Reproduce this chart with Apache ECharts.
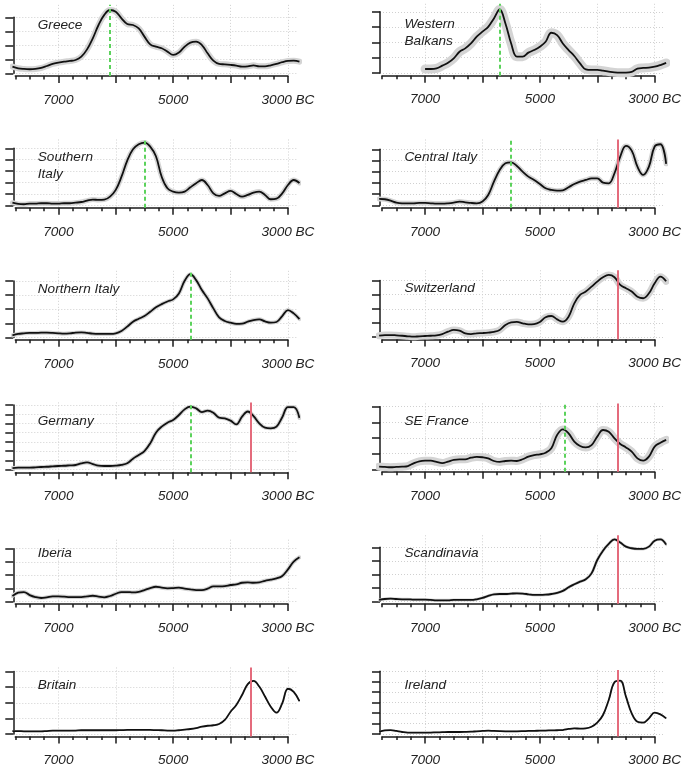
<!DOCTYPE html>
<html><head><meta charset="utf-8">
<script src="https://cdn.jsdelivr.net/npm/echarts@6/dist/echarts.min.js"></script>
<style>html,body{margin:0;padding:0;background:#fff}#c{width:685px;height:770px}</style>
</head><body><div id="c"></div>
<script>
// ---------- DATA ----------
const years = [7800,7700,7600,7500,7400,7300,7200,7100,7000,6900,6800,6700,6600,6500,6400,6300,6200,6100,6000,5900,5800,5700,5600,5500,5400,5300,5200,5100,5000,4900,4800,4700,4600,4500,4400,4300,4200,4100,4000,3900,3800,3700,3600,3500,3400,3300,3200,3100,3000,2900,2800];

const greece = [0.48,0.36,0.31,0.29,0.31,0.38,0.52,0.67,0.76,0.83,
  0.88,0.95,1.19,1.71,2.5,3.45,4.17,4.52,4.4,3.93,
  3.52,3.45,3.21,2.62,2.07,1.9,1.79,1.55,1.31,1.48,
  1.9,2.19,2.26,2.02,1.43,0.9,0.67,0.64,0.6,0.55,
  0.48,0.5,0.57,0.5,0.5,0.57,0.67,0.79,0.88,0.9,
  0.83];
const westernBalkans = [null,null,null,null,null,null,null,null,0.26,0.26,
  0.30,0.48,0.67,0.96,1.39,1.61,1.93,2.37,2.7,3.02,
  3.57,4.15,3.24,1.93,1.07,1.07,1.33,1.5,1.72,2.04,
  2.63,2.48,1.93,1.5,1.11,0.63,0.24,0.2,0.2,0.15,
  0.09,0.04,0.02,0.02,0.07,0.28,0.33,0.35,0.41,0.52,
  0.66];
const southernItaly = [0.23,0.12,0.09,0.15,0.15,0.18,0.18,0.15,0.15,0.18,
  0.18,0.23,0.29,0.41,0.5,0.47,0.5,0.76,1.35,2.51,
  3.92,4.91,5.35,5.5,5.15,4.3,2.5,1.49,1.2,1.11,
  1.2,1.58,1.93,2.22,1.78,1.05,0.82,1.05,1.26,0.99,
  0.76,0.91,1.11,1.2,0.91,0.53,0.58,1.05,1.78,2.22,
  1.95];
const centralItaly = [0.57,0.54,0.42,0.24,0.18,0.18,0.18,0.21,0.21,0.18,
  0.15,0.15,0.18,0.24,0.33,0.27,0.21,0.18,0.33,0.92,
  2.11,3.15,3.75,3.84,3.51,3.0,2.56,2.26,1.9,1.52,
  1.37,1.31,1.34,1.61,1.9,2.11,2.26,2.41,2.41,2.02,
  1.96,2.86,4.35,5.3,4.88,3.45,2.71,3.45,5.25,5.45,
  3.7];
const northernItaly = [0.14,0.24,0.28,0.31,0.31,0.33,0.33,0.31,0.28,0.26,
  0.28,0.33,0.35,0.31,0.26,0.24,0.24,0.24,0.28,0.45,
  0.76,1.11,1.32,1.51,1.82,2.13,2.36,2.55,2.7,3.12,
  4.02,4.49,4.07,3.36,2.77,2.06,1.42,1.16,1.04,0.95,
  0.97,1.11,1.23,1.28,1.13,1.04,1.09,1.51,1.94,1.7,
  1.3];
const switzerland = [0.09,0.14,0.14,0.12,0.09,0.05,0.02,0.05,0.07,0.09,
  0.12,0.21,0.38,0.5,0.45,0.26,0.21,0.26,0.28,0.31,
  0.36,0.5,0.85,1.04,1.07,0.97,0.9,0.92,1.07,1.4,
  1.49,1.25,1.09,1.44,2.39,2.98,3.22,3.57,3.93,4.24,
  4.4,4.24,3.69,3.46,3.22,2.86,2.75,3.1,3.81,4.28,
  3.95];
const germany = [0.18,0.22,0.22,0.22,0.25,0.29,0.32,0.36,0.4,0.43,
  0.47,0.51,0.69,0.79,0.61,0.43,0.4,0.4,0.43,0.51,
  0.69,1.19,1.59,2.02,2.85,4.01,4.66,5.09,5.38,5.92,
  6.53,6.82,6.64,6.24,6.39,6.17,5.63,5.56,5.31,4.91,
  5.74,6.3,5.81,5.02,4.55,4.48,4.66,5.67,6.78,6.78,
  5.6];
const seFrance = [0.17,0.15,0.13,0.15,0.17,0.21,0.38,0.51,0.55,0.55,
  0.47,0.4,0.49,0.6,0.64,0.64,0.74,0.79,0.77,0.7,
  0.53,0.47,0.53,0.55,0.53,0.64,0.81,0.91,0.96,1.06,
  1.34,2.19,2.55,2.3,1.77,1.49,1.4,1.55,2.09,2.51,
  2.4,1.98,1.62,1.4,1.13,0.7,0.55,0.81,1.45,1.7,
  1.88];
const iberia = [0.43,0.68,0.73,0.5,0.35,0.28,0.33,0.4,0.4,0.38,
  0.35,0.35,0.35,0.4,0.45,0.38,0.33,0.43,0.6,0.73,
  0.73,0.7,0.75,0.88,1.03,1.13,1.06,1.01,1.03,1.06,
  0.98,0.93,0.88,0.88,0.98,1.16,1.16,1.18,1.26,1.31,
  1.43,1.46,1.43,1.46,1.58,1.66,1.76,1.94,2.44,3.02,
  3.35];
const scandinavia = [0.1,0.17,0.2,0.17,0.15,0.15,0.12,0.12,0.12,0.1,
  0.07,0.07,0.07,0.1,0.1,0.1,0.1,0.15,0.25,0.4,
  0.52,0.54,0.54,0.57,0.59,0.57,0.52,0.47,0.47,0.49,
  0.54,0.62,0.77,1.04,1.26,1.46,1.63,2.07,3.06,3.75,
  4.25,4.59,4.35,4.05,3.93,3.88,3.88,4.05,4.49,4.59,
  4.2];
const britain = [0.19,0.19,0.17,0.17,0.17,0.17,0.19,0.21,0.21,0.21,
  0.21,0.22,0.24,0.24,0.24,0.24,0.24,0.24,0.24,0.25,
  0.26,0.26,0.26,0.26,0.26,0.25,0.24,0.22,0.21,0.24,
  0.28,0.32,0.38,0.47,0.53,0.56,0.64,0.9,1.43,1.86,
  2.5,3.2,3.4,3.04,2.4,1.75,1.37,1.97,2.9,2.7,
  2.1];
const ireland = [0.22,0.35,0.38,0.29,0.19,0.13,0.13,0.13,0.13,0.14,
  0.16,0.17,0.19,0.19,0.19,0.2,0.22,0.26,0.29,0.32,
  0.29,0.27,0.26,0.26,0.26,0.27,0.29,0.3,0.32,0.33,
  0.35,0.36,0.38,0.48,0.54,0.51,0.54,0.7,1.09,1.82,
  3.26,4.95,5.1,3.58,1.98,1.18,1.09,1.5,2.04,1.88,
  1.5];

const regionNames = ['Greece','Western\nBalkans','Southern\nItaly','Central Italy','Northern Italy','Switzerland','Germany','SE France','Iberia','Scandinavia','Britain','Ireland'];
const regionValues = [greece, westernBalkans, southernItaly, centralItaly, northernItaly, switzerland, germany, seFrance, iberia, scandinavia, britain, ireland];
const greenYears = [6100, 5700, 5500, 5500, 4700, null, 4700, 4575, null, null, null, null];
const redYears   = [null, null, null, 3650, null, 3650, 3650, 3650, null, 3650, 3650, 3650];
const yTickCount = [4, 4, 5, 5, 4, 4, 7, 4, 4, 4, 4, 6];
const yUpper     = [4.7, 4.35, 5.55, 5.65, 4.55, 4.55, 7.0, 4.05, 4.5, 4.7, 4.1, 5.9];
const labelYears = [7000, 5000, 3000];
const xRange = [2820, 7785];
const minorRange = [3000, 7750];
const majorRange = [3000, 7000];

// ---------- LAYOUT / STYLE ----------
const tick0Y  = [73.3, 73, 205.3, 205.3, 337.3, 337, 469.7, 469.3, 601.7, 601.3, 734, 734];
const tickGap = [14, 15.3, 11.4, 11.2, 14.05, 14.1, 9.24, 15.65, 13.25, 13.5, 15.6, 10.45];
const bandW   = [6, 9, 5, 5, 4, 7, 4, 8, 4, 3, 1.5, 1.5];
const colLeft = [13.3, 380];
const plotW = 285;
const FONT = '"Liberation Sans", Arial, Helvetica, sans-serif';
const FS = 13.6;
const AX = '#1a1a1a';

const grids = [], xAxes = [], yAxes = [], series = [], titles = [];
const pxPerYear = plotW / (xRange[1] - xRange[0]);

regionNames.forEach((name, i) => {
  const c = i % 2;
  const L = colLeft[c];
  const xPx = y => L + (xRange[1] - y) * pxPerYear;
  const U = yUpper[i], g = tickGap[i], t0 = tick0Y[i], n = yTickCount[i];
  const top = t0 - 1.04 * U * g;
  const h = 1.08 * U * g;
  const gi = grids.length;
  grids.push({left: L, top: top, width: plotW, height: h, outerBoundsMode: 'none'});
  grids.push({left: xPx(minorRange[1]), top: top, width: xPx(minorRange[0]) - xPx(minorRange[1]), height: h, outerBoundsMode: 'none'});
  grids.push({left: xPx(majorRange[1]), top: top, width: xPx(majorRange[0]) - xPx(majorRange[1]), height: h, outerBoundsMode: 'none'});
  grids.push({left: L, top: t0 - n * g, width: plotW, height: n * g, outerBoundsMode: 'none'});

  const hiddenX = (gIdx, min, max, inv) => ({type: 'value', gridIndex: gIdx, min, max, inverse: inv, show: false, axisLine: {onZero: false}});
  const hiddenY = (gIdx, min, max) => ({type: 'value', gridIndex: gIdx, min, max, show: false, axisLine: {onZero: false}});

  xAxes.push(hiddenX(gi, xRange[0], xRange[1], true));
  yAxes.push(hiddenY(gi, -0.04 * U, 1.04 * U));

  xAxes.push({type: 'value', gridIndex: gi + 1, min: minorRange[0], max: minorRange[1], interval: 250, inverse: true,
    position: 'bottom',
    axisLine: {show: true, onZero: false, lineStyle: {color: AX, width: 1.5}},
    axisTick: {show: true, length: 3.5, lineStyle: {color: AX, width: 1.5}},
    axisLabel: {show: false}, splitLine: {show: false}});
  yAxes.push(hiddenY(gi + 1, 0, 1));

  xAxes.push({type: 'value', gridIndex: gi + 2, min: majorRange[0], max: majorRange[1], interval: 1000, inverse: true,
    position: 'bottom',
    axisLine: {show: false, onZero: false},
    axisTick: {show: true, length: 7, lineStyle: {color: AX, width: 1.5}},
    axisLabel: {show: true, margin: 17, fontSize: FS, fontStyle: 'italic', fontFamily: FONT, color: '#222',
      formatter: v => labelYears.includes(v) ? (v === 3000 ? '3000 BC' : String(v)) : ''},
    splitLine: {show: true, lineStyle: {color: '#d0d0d0', type: [1, 2], width: 1}}});
  yAxes.push(hiddenY(gi + 2, 0, 1));

  xAxes.push(hiddenX(gi + 3, 0, 1, false));
  yAxes.push({type: 'value', gridIndex: gi + 3, min: 0, max: n, interval: 1, position: 'left',
    axisLine: {show: true, onZero: false, lineStyle: {color: AX, width: 1.5}},
    axisTick: {show: true, length: 8, lineStyle: {color: AX, width: 1.5}},
    axisLabel: {show: false},
    splitLine: {show: true, lineStyle: {color: '#d0d0d0', type: [1, 2], width: 1}}});

  const vals = regionValues[i];
  const data = years.map((y, k) => [y, vals[k]]);

  series.push({type: 'line', xAxisIndex: gi, yAxisIndex: gi, data, smooth: 0.4, symbol: 'none', silent: true,
    connectNulls: false, z: 2,
    lineStyle: {color: '#d4d4d4', width: bandW[i], cap: 'round', join: 'round'}});

  const marks = [];
  if (greenYears[i] != null) marks.push({xAxis: greenYears[i], lineStyle: {color: '#5cd25c', type: [4, 3], width: 2}});
  if (redYears[i] != null) marks.push({xAxis: redYears[i], lineStyle: {color: '#e46b7c', type: 'solid', width: 2}});

  series.push({type: 'line', xAxisIndex: gi, yAxisIndex: gi, data, smooth: 0.4, symbol: 'none', silent: true,
    connectNulls: false, z: 3,
    lineStyle: {color: '#111', width: 1.8},
    markLine: {silent: true, symbol: ['none', 'none'], label: {show: false}, emphasis: {disabled: true}, animation: false, data: marks}});

  titles.push({text: name, left: L + 24.5, top: t0 - 57, padding: 0,
    textStyle: {fontSize: FS, fontStyle: 'italic', fontWeight: 'normal', fontFamily: FONT, color: '#222', lineHeight: 17}});
});

const chart = echarts.init(document.getElementById('c'), null, {renderer: 'canvas'});
chart.setOption({
  animation: false,
  backgroundColor: '#fff',
  title: titles,
  grid: grids,
  xAxis: xAxes,
  yAxis: yAxes,
  series: series
});
</script></body></html>
